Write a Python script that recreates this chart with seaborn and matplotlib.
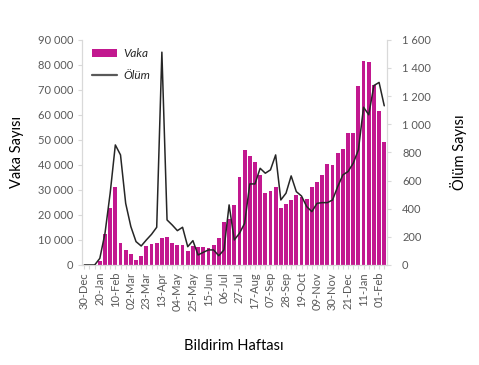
import numpy as np
import pandas as pd
import seaborn as sns
import matplotlib.pyplot as plt
from matplotlib.patches import Patch
from matplotlib.lines import Line2D
from matplotlib.ticker import FuncFormatter, MultipleLocator

# weekly categories (Monday of each notification week)
weeks = pd.date_range('2019-12-30', periods=59, freq='7D').strftime('%d-%b').tolist()

vaka = [0, 0, 0, 1700, 12300, 22700, 31000, 8900, 6000, 4400,
        2000, 3600, 7700, 8400, 8700, 10700, 11200, 8700, 7900, 7900,
        5700, 7600, 7300, 7300, 6600, 8000, 10700, 17200, 18400, 24000,
        35000, 46000, 43700, 41300, 36000, 28700, 29700, 31000, 22700, 24400,
        26000, 28000, 27000, 26300, 31300, 33000, 35900, 40400, 39900, 44900,
        46300, 52700, 52700, 71600, 81600, 81100, 72000, 61500, 49200]

olum = [0, 0, 0, 47, 225, 510, 853, 782, 438, 273,
        166, 135, 178, 218, 268, 1512, 320, 284, 244, 268,
        130, 173, 71, 90, 107, 107, 66, 107, 427, 178,
        225, 296, 576, 576, 687, 652, 676, 782, 462, 510,
        633, 521, 490, 415, 379, 438, 443, 443, 462, 557,
        640, 664, 723, 818, 1121, 1067, 1275, 1297, 1131]

df = pd.DataFrame({'Hafta': weeks, 'Vaka': vaka, 'Olum': olum})
df['Pos'] = np.arange(len(df))

bar_color = '#C2188F'
line_color = '#262626'
grey = '#D9D9D9'
tick_color = '#595959'

sns.set_theme(style='white')
plt.rcParams['font.family'] = ['Lato', 'DejaVu Sans']

fig = plt.figure(figsize=(4.79, 3.65), dpi=100)
ax = fig.add_axes([0.1706, 0.274, 0.637, 0.617])

sns.barplot(data=df, x='Hafta', y='Vaka', order=weeks, color=bar_color,
            saturation=1, width=0.74, linewidth=0, ax=ax)
ax.set_xlim(-0.5, len(weeks) - 0.5)
ax.set_ylim(0, 90000)
ax.yaxis.set_major_locator(MultipleLocator(10000))

ax2 = ax.twinx()
sns.lineplot(data=df, x='Pos', y='Olum', color=line_color, lw=1.1, ax=ax2)
ax2.set_ylim(0, 1600)
ax2.yaxis.set_major_locator(MultipleLocator(200))
ax2.set_xlim(-0.5, len(weeks) - 0.5)

fmt = FuncFormatter(lambda v, p: f'{v:,.0f}'.replace(',', ' '))
ax.yaxis.set_major_formatter(fmt)
ax2.yaxis.set_major_formatter(fmt)

# x ticks: every category gets a tick mark, every third gets a label
ax.set_xticks(np.arange(len(weeks)))
ax.set_xticklabels([w if i % 3 == 0 else '' for i, w in enumerate(weeks)],
                   rotation=90, fontsize=8, color=tick_color)
ax.tick_params(axis='x', length=3, width=0.8, color=grey, pad=2, bottom=True)
ax.tick_params(axis='y', length=3, width=0.8, color=grey, labelsize=8,
               labelcolor=tick_color, pad=3, left=True)
ax2.tick_params(axis='y', length=3, width=0.8, color=grey, labelsize=8,
                labelcolor=tick_color, pad=8, right=True)

for a in (ax, ax2):
    for s in a.spines.values():
        s.set_visible(False)
ax.spines['left'].set_visible(True)
ax.spines['bottom'].set_visible(True)
ax2.spines['right'].set_visible(True)
for s in (ax.spines['left'], ax.spines['bottom'], ax2.spines['right']):
    s.set_color(grey)
    s.set_linewidth(0.9)

ax.set_xlabel('Bildirim Haftası', fontsize=10.5, color='black', labelpad=20)
ax.set_ylabel('Vaka Sayısı', fontsize=10.5, color='black', labelpad=10)
ax2.set_ylabel('Ölüm Sayısı', fontsize=10.5, color='black', labelpad=14,
               rotation=90)

handles = [Patch(facecolor=bar_color, edgecolor='none'),
           Line2D([0], [0], color='#595959', lw=1.6)]
ax2.legend(handles, ['Vaka', 'Ölüm'], loc='upper left', frameon=False,
           prop={'style': 'italic', 'size': 8.5}, handlelength=2.1,
           handleheight=0.6, handletextpad=0.5, labelspacing=0.9,
           bbox_to_anchor=(0.0, 1.01))

fig.savefig('out.png', dpi=100)
